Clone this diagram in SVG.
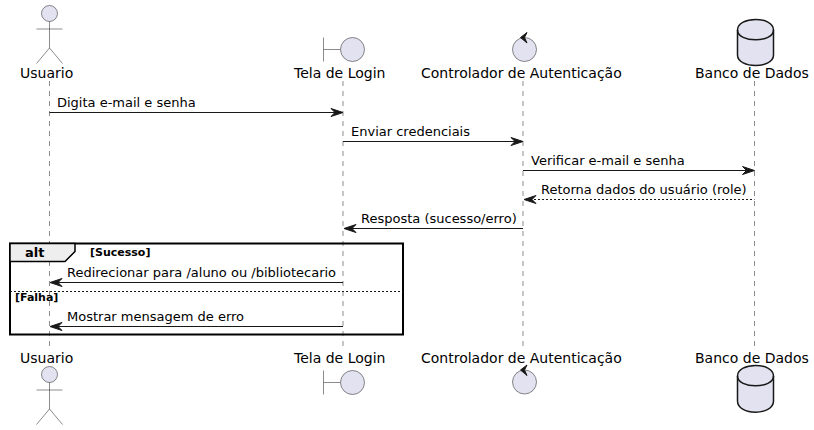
<svg xmlns="http://www.w3.org/2000/svg" width="814" height="430" viewBox="0 0 814 430">
<defs>
<style>
text{font-family:"DejaVu Sans",sans-serif;fill:#000}
.name{font-size:14px}
.msg{font-size:13px}
.guard{font-size:11px;font-weight:bold}
.life{stroke:#181818;stroke-width:.5;stroke-dasharray:5,5;fill:none}
.thin{stroke:#181818;stroke-width:.5;fill:#E2E2F0}
.shape{stroke:#181818;stroke-width:.5;fill:none}
.ln{stroke:#181818;stroke-width:1;fill:none}
.dash{stroke:#181818;stroke-width:1;stroke-dasharray:2,2;fill:none}
.fr{stroke:#000;stroke-width:2;fill:none}
.ah{fill:#181818;stroke:#181818;stroke-width:1}
.db{fill:#E2E2F0;stroke:#181818;stroke-width:1.5}
.dbl{fill:none;stroke:#181818;stroke-width:1.5}
</style>
</defs>
<g id="lifelines">
<line class="life" x1="49.5" y1="81" x2="49.5" y2="346"/>
<line class="life" x1="343" y1="81" x2="343" y2="346"/>
<line class="life" x1="523" y1="81" x2="523" y2="346"/>
<line class="life" x1="754.5" y1="81" x2="754.5" y2="346"/>
</g>
<g id="alt-frame">
<rect class="fr" x="10" y="243.5" width="393" height="91"/>
<path d="M10 243.5H75V251.500L65 261.500H10Z" fill="#EEEEEE" stroke="#000" stroke-width="1.500"/>
<text x="25" y="257" font-size="13" font-weight="bold">alt</text>
<text class="guard" x="90" y="256">[Sucesso]</text>
<line class="dash" x1="10" y1="291.500" x2="403" y2="291.500"/>
<text class="guard" x="15" y="301">[Falha]</text>
</g>
<g id="connectors">
<line class="ln" x1="49.5" y1="112.500" x2="341" y2="112.500"/>
<path class="ah" d="M331 108.500L343 112.500L331 116.500L335 112.500Z"/>
<text class="msg" x="57" y="107">Digita e-mail e senha</text>
<line class="ln" x1="343" y1="141.500" x2="521" y2="141.500"/>
<path class="ah" d="M511 137.500L523 141.500L511 145.500L515 141.500Z"/>
<text class="msg" x="351" y="136">Enviar credenciais</text>
<line class="ln" x1="523" y1="170.500" x2="752" y2="170.500"/>
<path class="ah" d="M742.500 166.500L754.500 170.500L742.500 174.500L746.500 170.500Z"/>
<text class="msg" x="531" y="165">Verificar e-mail e senha</text>
<line class="ln" x1="526" y1="199.500" x2="754.500" y2="199.500" stroke-dasharray="2,2"/>
<path class="ah" d="M536 195.500L524 199.500L536 203.500L532 199.500Z"/>
<text class="msg" x="541" y="194">Retorna dados do usuário (role)</text>
<line class="ln" x1="346" y1="228.500" x2="523" y2="228.500"/>
<path class="ah" d="M356 224.500L344 228.500L356 232.500L352 228.500Z"/>
<text class="msg" x="361" y="223">Resposta (sucesso/erro)</text>
<line class="ln" x1="52" y1="282.500" x2="343" y2="282.500"/>
<path class="ah" d="M62 278.500L50 282.500L62 286.500L58 282.500Z"/>
<text class="msg" x="67" y="277">Redirecionar para /aluno ou /bibliotecario</text>
<line class="ln" x1="52" y1="326.500" x2="343" y2="326.500"/>
<path class="ah" d="M62 322.500L50 326.500L62 330.500L58 326.500Z"/>
<text class="msg" x="67" y="321">Mostrar mensagem de erro</text>
</g>
<g id="node-usuario">
<circle class="thin" cx="49.500" cy="13.500" r="8"/>
<path class="shape" d="M49.500 21.500V48M36.500 29H62.500M49.500 48L36.500 63.500M49.500 48L62.500 63.500"/>
<text class="name" x="20" y="78">Usuario</text>
</g>
<g id="node-tela">
<path class="shape" d="M323.500 37.500V61.500M323.500 49.500H340.500"/>
<circle class="thin" cx="352.500" cy="49.500" r="12"/>
<text class="name" x="294" y="78">Tela de Login</text>
</g>
<g id="node-controlador">
<circle class="thin" cx="524.500" cy="49.500" r="12"/>
<path class="ah" d="M527 32.500L520.500 37.500L527 43L524.500 37.500Z"/>
<text class="name" x="421" y="78">Controlador de Autenticação</text>
</g>
<g id="node-banco">
<path class="db" d="M737.500 30C737.500 16 773.500 16 773.500 30V55C773.500 69 737.500 69 737.500 55Z"/>
<path class="dbl" d="M737.500 30C737.500 43 773.500 43 773.500 30"/>
<text class="name" x="695" y="78">Banco de Dados</text>
</g>
<g id="node-usuario-bottom">
<text class="name" x="20" y="363">Usuario</text>
<circle class="thin" cx="49.500" cy="374.500" r="8"/>
<path class="shape" d="M49.500 382.500V409M36.500 390H62.500M49.500 409L36.500 424.500M49.500 409L62.500 424.500"/>
</g>
<g id="node-tela-bottom">
<text class="name" x="294" y="363">Tela de Login</text>
<path class="shape" d="M323.500 370.500V394.500M323.500 382.500H340.500"/>
<circle class="thin" cx="352.500" cy="382.500" r="12"/>
</g>
<g id="node-controlador-bottom">
<text class="name" x="421" y="363">Controlador de Autenticação</text>
<circle class="thin" cx="524.500" cy="382" r="12"/>
<path class="ah" d="M527 365L520.500 370L527 375.500L524.500 370Z"/>
</g>
<g id="node-banco-bottom">
<text class="name" x="695" y="363">Banco de Dados</text>
<path class="db" d="M737.500 376C737.500 362 773.500 362 773.500 376V401C773.500 416 737.500 416 737.500 401Z"/>
<path class="dbl" d="M737.500 376C737.500 389 773.500 389 773.500 376"/>
</g>
</svg>
